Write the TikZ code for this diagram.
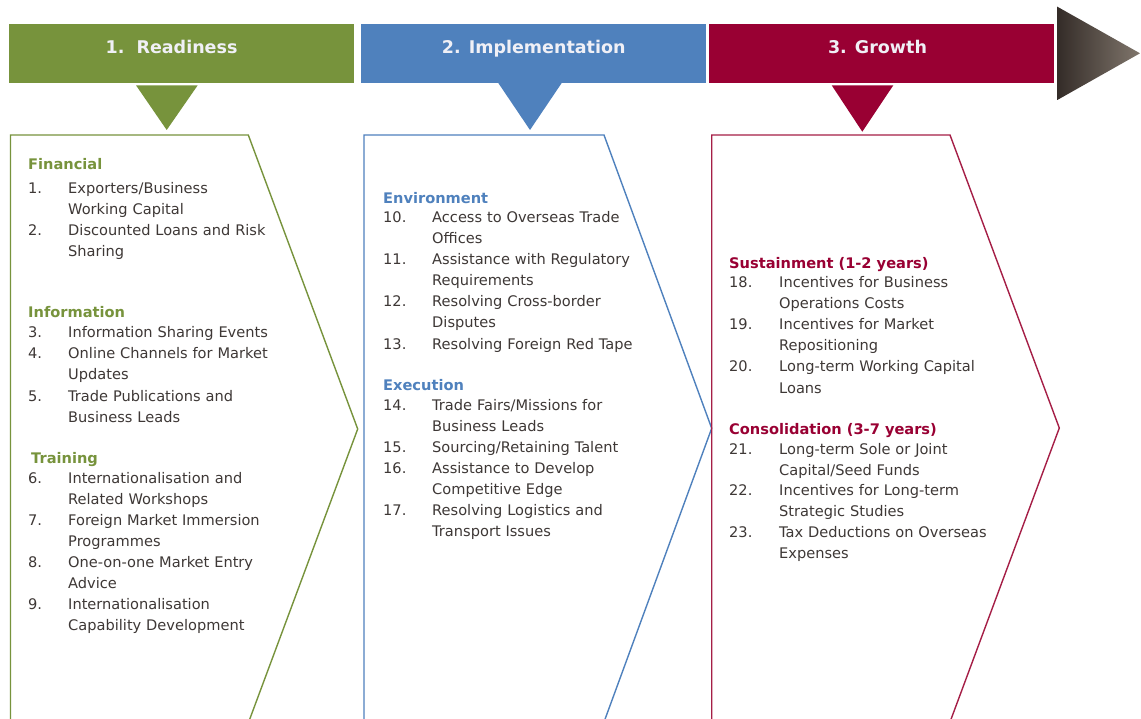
\documentclass[tikz,border=0pt]{standalone}
\usepackage{fontspec}
\setmainfont{DejaVu Sans}
\definecolor{cgreen}{RGB}{119,147,60}
\definecolor{cblue}{RGB}{79,129,189}
\definecolor{cred}{RGB}{153,0,51}
\definecolor{lred}{RGB}{165,30,70}
\definecolor{txt}{RGB}{62,56,54}
\definecolor{bartxt}{RGB}{240,240,246}
\definecolor{arrL}{RGB}{52,44,40}
\definecolor{arrR}{RGB}{128,118,108}
\begin{document}
\begin{tikzpicture}[x=1pt,y=-1pt,
  barbox/.style={inner sep=0, minimum width=345pt, minimum height=59pt},
  bartext/.style={anchor=base, inner sep=0, text=bartxt, font=\fontsize{17.5}{20}\selectfont\bfseries},
  num/.style={anchor=base west, inner sep=0, text=txt, font=\fontsize{14.6}{21}\selectfont},
  itm/.style={num, text width=250pt, align=left},
  grp/.style={anchor=base west, inner sep=0, font=\fontsize{14.6}{21}\selectfont\bfseries},
  chev/.style={line width=1.4pt, line join=miter}]
\clip (0,0) rectangle (1141,719);
\fill[white] (0,0) rectangle (1141,719);

% header bars
\node[barbox, fill=cgreen] (b1) at (181.8,53.7) {};
\node[barbox, fill=cblue] (b2) at (533.9,53.7) {};
\node[barbox, fill=cred] (b3) at (881.2,53.7) {};
\node[bartext] (l1) at (171.5,53.3) {1.\ \ Readiness};
\node[bartext] (l2) at (533.7,53.3) {2. Implementation};
\node[bartext] (l3) at (877.5,53.3) {3. Growth};

% pointers
\fill[cgreen] (136,85.3) -- (197.7,85.3) -- (166.7,130) -- cycle;
\fill[cblue] (498.3,83) -- (561.7,83) -- (530,130) -- cycle;
\fill[cred] (831.7,85.3) -- (893.3,85.3) -- (862.3,131.7) -- cycle;

% big arrow
\shade[left color=arrL, right color=arrR] (1057.3,6.7) -- (1140,53.3) -- (1057.3,100) -- cycle;

% chevrons
\draw[chev, cgreen] (10.5,723) -- (10.5,135) -- (248.3,135) -- (357.7,429) -- (248.3,723) -- cycle;
\draw[chev, cblue] (364,722) -- (364,135) -- (604,135) -- (711.7,428.3) -- (604,722) -- cycle;
\draw[chev, lred] (711.7,722) -- (711.7,135) -- (950,135) -- (1059.3,428) -- (950,722) -- cycle;

% column 1
\node[grp, text=cgreen] (g1) at (28,170) {Financial};
\node[num] (n1) at (28,194) {1.};
\node[itm] (t1) at (68,194) {Exporters/Business\\Working Capital};
\node[num] (n2) at (28,236) {2.};
\node[itm] (t2) at (68,236) {Discounted Loans and Risk\\Sharing};
\node[grp, text=cgreen] (g2) at (28,318) {Information};
\node[num] (n3) at (28,338) {3.};
\node[itm] (t3) at (68,338) {Information Sharing Events};
\node[num] (n4) at (28,359) {4.};
\node[itm] (t4) at (68,359) {Online Channels for Market\\Updates};
\node[num] (n5) at (28,401) {5.};
\node[itm] (t5) at (68,401) {Trade Publications and\\Business Leads};
\node[grp, text=cgreen] (g3) at (31,463) {Training};
\node[num] (n6) at (28,483) {6.};
\node[itm] (t6) at (68,483) {Internationalisation and\\Related Workshops};
\node[num] (n7) at (28,525) {7.};
\node[itm] (t7) at (68,525) {Foreign Market Immersion\\Programmes};
\node[num] (n8) at (28,567) {8.};
\node[itm] (t8) at (68,567) {One-on-one Market Entry\\Advice};
\node[num] (n9) at (28,609) {9.};
\node[itm] (t9) at (68,609) {Internationalisation\\Capability Development};

% column 2
\node[grp, text=cblue] (g4) at (383,204) {Environment};
\node[num] (n10) at (383,223) {10.};
\node[itm] (t10) at (432,223) {Access to Overseas Trade\\Offices};
\node[num] (n11) at (383,265) {11.};
\node[itm] (t11) at (432,265) {Assistance with Regulatory\\Requirements};
\node[num] (n12) at (383,307) {12.};
\node[itm] (t12) at (432,307) {Resolving Cross-border\\Disputes};
\node[num] (n13) at (383,350) {13.};
\node[itm] (t13) at (432,350) {Resolving Foreign Red Tape};
\node[grp, text=cblue] (g5) at (383,390) {Execution};
\node[num] (n14) at (383,410) {14.};
\node[itm] (t14) at (432,410) {Trade Fairs/Missions for\\Business Leads};
\node[num] (n15) at (383,452) {15.};
\node[itm] (t15) at (432,452) {Sourcing/Retaining Talent};
\node[num] (n16) at (383,473) {16.};
\node[itm] (t16) at (432,473) {Assistance to Develop\\Competitive Edge};
\node[num] (n17) at (383,515) {17.};
\node[itm] (t17) at (432,515) {Resolving Logistics and\\Transport Issues};

% column 3
\node[grp, text=cred] (g6) at (729,269) {Sustainment (1-2 years)};
\node[num] (n18) at (729,288) {18.};
\node[itm] (t18) at (779,288) {Incentives for Business\\Operations Costs};
\node[num] (n19) at (729,330) {19.};
\node[itm] (t19) at (779,330) {Incentives for Market\\Repositioning};
\node[num] (n20) at (729,372) {20.};
\node[itm] (t20) at (779,372) {Long-term Working Capital\\Loans};
\node[grp, text=cred] (g7) at (729,434) {Consolidation (3-7 years)};
\node[num] (n21) at (729,454) {21.};
\node[itm] (t21) at (779,454) {Long-term Sole or Joint\\Capital/Seed Funds};
\node[num] (n22) at (729,495) {22.};
\node[itm] (t22) at (779,495) {Incentives for Long-term\\Strategic Studies};
\node[num] (n23) at (729,537) {23.};
\node[itm] (t23) at (779,537) {Tax Deductions on Overseas\\Expenses};
\end{tikzpicture}
\end{document}
